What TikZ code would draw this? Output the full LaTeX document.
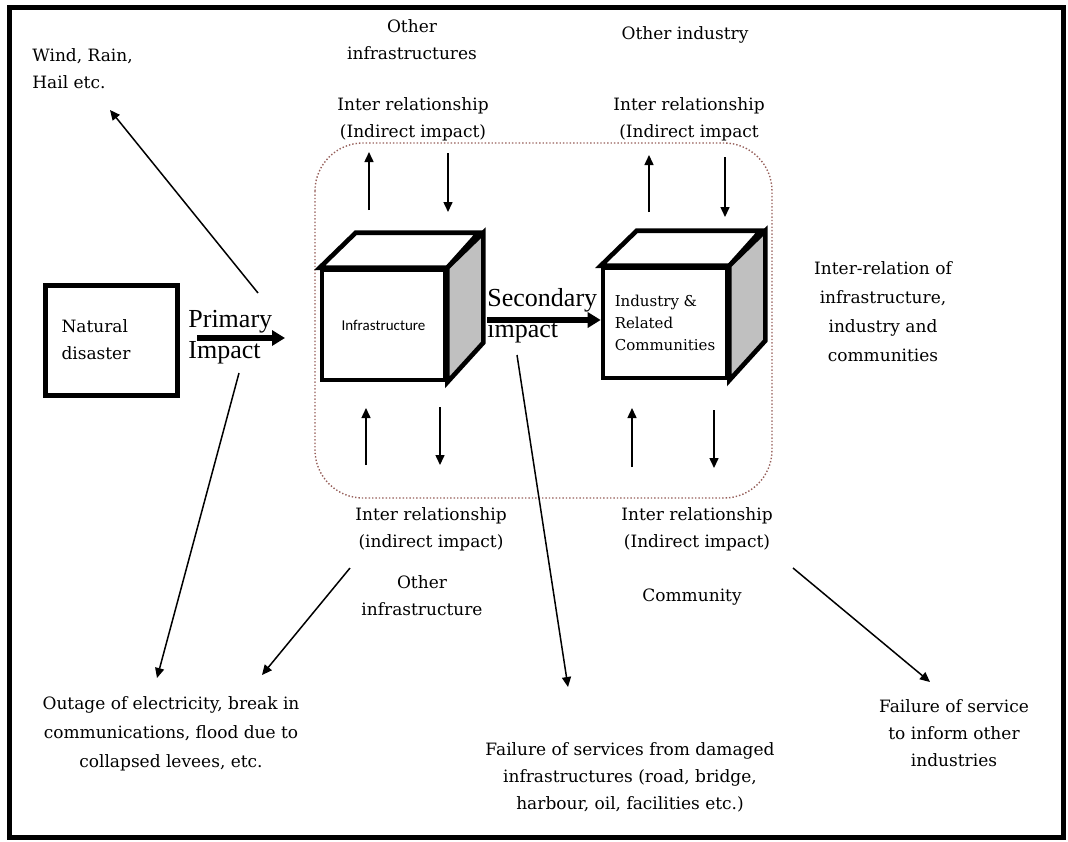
\documentclass[tikz,border=0pt]{standalone}
\usepackage{fontspec}
\setmainfont{DejaVu Serif}
\newfontfamily\impactfont{Liberation Serif}
\newfontfamily\labelfont{Carlito}
\usetikzlibrary{arrows.meta,positioning}
\definecolor{sidegray}{RGB}{192,192,192}
\definecolor{dotbrown}{RGB}{150,95,90}

\begin{document}
\begin{tikzpicture}[x=0.5pt,y=-0.5pt,
    txt/.style={align=center,inner sep=0pt,font=\fontsize{8.5}{13.5}\selectfont},
    relarrow/.style={-{Triangle[length=5pt,width=4.5pt]},line width=0.75pt},
    bigarrow/.style={-{Triangle[length=6.5pt,width=7.5pt]},line width=3pt},
    cubeline/.style={line width=2.3pt,line join=miter},
    impact/.style={align=left,inner sep=0pt,font=\impactfont\fontsize{13}{15.5}\selectfont}]
    \useasboundingbox (0,0) rectangle (1068,841);
    \draw[line width=2.5pt] (9.5,7.5) rectangle (1063.5,837);

    % dotted frame round the two blocks
    \draw[dotbrown, densely dotted, line width=0.7pt, rounded corners=24pt] (315,143) rectangle (772,498);

    % source
    \node[draw, line width=2.5pt, txt, align=left, text width=50pt,
          minimum width=66pt, minimum height=55pt] (natural) at (111.5,340) {Natural\\disaster};
    \node[impact, anchor=west] (primary) at (188,337) {Primary\\Impact};

    % infrastructure block
    \node[draw, cubeline, fill=white, minimum width=61.5pt, minimum height=55pt, inner sep=0pt,
          font=\labelfont\fontsize{7.5}{9}\selectfont] (infra) at (383.5,325) {Infrastructure};
    \draw[cubeline, fill=white] (infra.north west) -- ++(36,-35) -- ++(123,0) -- (infra.north east) -- cycle;
    \draw[cubeline, fill=sidegray] (infra.north east) -- ++(36,-35) -- ++(0,110) -- (infra.south east) -- cycle;

    % industry block
    \node[draw, cubeline, fill=white, minimum width=62pt, minimum height=55pt, inner sep=0pt,
          align=left, font=\fontsize{7.5}{11}\selectfont] (industry) at (665,323) {Industry \&\\Related\\Communities};
    \draw[cubeline, fill=white] (industry.north west) -- ++(36,-35) -- ++(124,0) -- (industry.north east) -- cycle;
    \draw[cubeline, fill=sidegray] (industry.north east) -- ++(36,-35) -- ++(0,110) -- (industry.south east) -- cycle;

    \node[impact, anchor=west] (secondary) at (487,316) {Secondary\\impact};

    % labels
    \node[txt, anchor=west, align=left] (wind) at (32,69) {Wind, Rain,\\Hail etc.};
    \node[txt] (otherinfra) at (412,40) {Other\\infrastructures};
    \node[txt] (otherind) at (685,35) {Other industry};
    \node[txt] (reltopl) at (413,119) {Inter relationship\\(Indirect impact)};
    \node[txt] (reltopr) at (689,119) {Inter relationship\\(Indirect impact};
    \node[txt, font=\fontsize{8.5}{14.5}\selectfont] (summary) at (883,312) {Inter-relation of\\infrastructure,\\industry and\\communities};
    \node[txt] (relbotl) at (431,529) {Inter relationship\\(indirect impact)};
    \node[txt] (otherinfrab) at (422,596) {Other\\infrastructure};
    \node[txt] (relbotr) at (697,529) {Inter relationship\\(Indirect impact)};
    \node[txt] (community) at (692,597) {Community};
    \node[txt, font=\fontsize{8.5}{14.5}\selectfont] (outage) at (171,734) {Outage of electricity, break in\\communications, flood due to\\collapsed levees, etc.};
    \node[txt] (failserv) at (630,777) {Failure of services from damaged\\infrastructures (road, bridge,\\harbour, oil, facilities etc.)};
    \node[txt] (failinform) at (954,733) {Failure of service\\to inform other\\industries};

    % impact arrows
    \coordinate (prim-a) at (197,338);
    \coordinate (prim-b) at (285,338);
    \coordinate (sec-a) at (487,320);
    \draw[bigarrow] (prim-a) -- (prim-b);
    \draw[bigarrow] (sec-a) -- (sec-a -| industry.west);

    % long arrows
    \coordinate (wind-a) at (258,293);
    \coordinate (wind-b) at (110,110);
    \coordinate (out-a) at (239,373);
    \coordinate (out-b) at (157,678);
    \coordinate (oth-a) at (350,568);
    \coordinate (oth-b) at (262,675);
    \coordinate (serv-a) at (517,355);
    \coordinate (serv-b) at (568,687);
    \coordinate (inf-a) at (793,568);
    \coordinate (inf-b) at (930,682);
    \draw[relarrow] (wind-a) -- (wind-b);
    \draw[relarrow] (out-a) -- (out-b);
    \draw[relarrow] (oth-a) -- (oth-b);
    \draw[relarrow] (serv-a) -- (serv-b);
    \draw[relarrow] (inf-a) -- (inf-b);

    % short arrows above and below the blocks
    \coordinate (t1a) at (369,210); \coordinate (t1b) at (369,152);
    \coordinate (t2a) at (448,153); \coordinate (t2b) at (448,212);
    \coordinate (t3a) at (649,212); \coordinate (t3b) at (649,155);
    \coordinate (t4a) at (725,157); \coordinate (t4b) at (725,217);
    \coordinate (b1a) at (366,465); \coordinate (b1b) at (366,408);
    \coordinate (b2a) at (440,407); \coordinate (b2b) at (440,465);
    \coordinate (b3a) at (632,467); \coordinate (b3b) at (632,408);
    \coordinate (b4a) at (714,410); \coordinate (b4b) at (714,468);
    \draw[relarrow] (t1a) -- (t1b);
    \draw[relarrow] (t2a) -- (t2b);
    \draw[relarrow] (t3a) -- (t3b);
    \draw[relarrow] (t4a) -- (t4b);
    \draw[relarrow] (b1a) -- (b1b);
    \draw[relarrow] (b2a) -- (b2b);
    \draw[relarrow] (b3a) -- (b3b);
    \draw[relarrow] (b4a) -- (b4b);
\end{tikzpicture}
\end{document}
